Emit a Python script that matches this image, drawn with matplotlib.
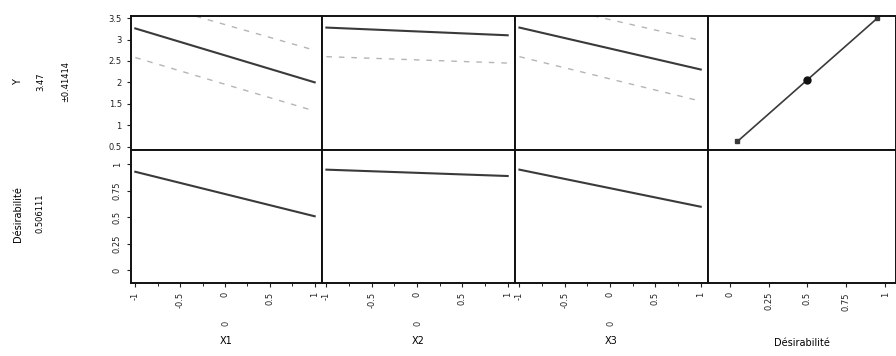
import matplotlib.pyplot as plt
from matplotlib.ticker import MultipleLocator

# factor levels used for each profile trace
x_levels = [-1, 1]

# top row: predicted Y with confidence band, one trace per factor
y_pred_x1 = [3.26, 2.00]
y_lo_x1 = [2.58, 1.33]
y_hi_x1 = [3.95, 2.75]
y_pred_x2 = [3.28, 3.10]
y_lo_x2 = [2.60, 2.45]
y_hi_x2 = [3.95, 3.75]
y_pred_x3 = [3.28, 2.30]
y_lo_x3 = [2.60, 1.56]
y_hi_x3 = [3.95, 2.98]

# bottom row: desirability traces
d_x1 = [0.93, 0.51]
d_x2 = [0.95, 0.89]
d_x3 = [0.95, 0.60]

# desirability function for Y (x = desirability, y = Y)
desir_pts = [0.05, 0.50, 0.95]
y_desir_pts = [0.62, 2.06, 3.50]
current_desir = 0.50
current_y = 2.06

factor_names = ['X1', 'X2', 'X3']
x_ticks = [-1, -0.5, 0, 0.5, 1]
x_tick_labels = ['-1', '-0.5', '0', '0.5', '1']
y_ticks = [0.5, 1, 1.5, 2, 2.5, 3, 3.5]
y_tick_labels = ['0.5', '1', '1.5', '2', '2.5', '3', '3.5']
d_ticks = [0, 0.25, 0.5, 0.75, 1]
d_tick_labels = ['0', '0.25', '0.5', '0.75', '1']
current_x = '0'

fig = plt.figure(figsize=(8.96, 3.56), dpi=100)
gs = fig.add_gridspec(2, 4, left=0.146, right=1.0, top=0.955, bottom=0.205,
                      wspace=0, hspace=0, width_ratios=[191, 193, 193, 188])

line_col = '#3a3a3a'
band_col = '#b5b5b5'
fs = 6

top = [(y_pred_x1, y_lo_x1, y_hi_x1), (y_pred_x2, y_lo_x2, y_hi_x2),
       (y_pred_x3, y_lo_x3, y_hi_x3)]
bot = [d_x1, d_x2, d_x3]

axes = [[fig.add_subplot(gs[r, c]) for c in range(4)] for r in range(2)]

for c in range(4):
    for r in range(2):
        ax = axes[r][c]
        for s in ax.spines.values():
            s.set_linewidth(1.4)
            s.set_color('#111111')
        ax.tick_params(length=3, width=0.8, labelsize=fs, colors='#222222')
        ax.set_ylim(0.43, 3.55) if r == 0 else ax.set_ylim(-0.12, 1.14)
        if c > 0:
            ax.set_yticks([])
    if c < 3:
        pred, lo, hi = top[c]
        ax = axes[0][c]
        ax.plot(x_levels, pred, color=line_col, lw=1.5)
        ax.plot(x_levels, lo, color=band_col, lw=1.0, ls=(0, (4, 5)))
        ax.plot(x_levels, hi, color=band_col, lw=1.0, ls=(0, (4, 5)))
        axes[1][c].plot(x_levels, bot[c], color=line_col, lw=1.5)
        for r in range(2):
            axes[r][c].set_xlim(-1.05, 1.08)
        ax = axes[1][c]
        ax.set_xticks(x_ticks)
        ax.set_xticklabels(x_tick_labels, rotation=90)
        ax.xaxis.set_minor_locator(MultipleLocator(0.25))
        ax.tick_params(axis='x', which='minor', length=2)
        ax.text(0.5, -0.3, current_x, rotation=90, fontsize=fs,
                transform=ax.transAxes, ha='center', va='center', color='#333333')
        ax.set_xlabel(factor_names[c], fontsize=7, labelpad=20)
    else:
        ax = axes[0][3]
        ax.plot(desir_pts, y_desir_pts, color=line_col, lw=1.2, marker='s', ms=2.5,
                markevery=[0, 2])
        ax.plot([current_desir], [current_y], 'o', color='#111111', ms=5)
        for r in range(2):
            axes[r][3].set_xlim(-0.14, 1.07)
        ax = axes[1][3]
        ax.set_xticks(d_ticks)
        ax.set_xticklabels(d_tick_labels, rotation=90)
        ax.set_xlabel('Désirabilité', fontsize=7, labelpad=20)
    axes[0][c].set_xticks([])

axes[0][0].set_yticks(y_ticks)
axes[0][0].set_yticklabels(y_tick_labels)
axes[1][0].set_yticks(d_ticks)
axes[1][0].set_yticklabels(d_tick_labels, rotation=90, va='center')

fig.text(0.02, 0.77, 'Y', rotation=90, fontsize=7, ha='center', va='center')
fig.text(0.045, 0.77, '3.47', rotation=90, fontsize=6, ha='center', va='center')
fig.text(0.073, 0.77, '±0.41414', rotation=90, fontsize=6, ha='center', va='center')
fig.text(0.02, 0.40, 'Désirabilité', rotation=90, fontsize=7, ha='center', va='center')
fig.text(0.045, 0.40, '0.506111', rotation=90, fontsize=6, ha='center', va='center')

plt.savefig('out.png', dpi=100)
plt.close(fig)
